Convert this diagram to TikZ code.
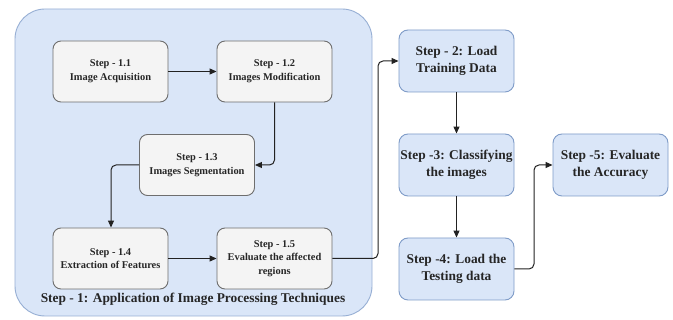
\documentclass[tikz,border=0pt]{standalone}
\usepackage{fontspec}
\setmainfont{Liberation Serif}[BoldFont={Liberation Serif Bold}]
\usetikzlibrary{arrows.meta}
\definecolor{contfill}{HTML}{DAE6F8}
\definecolor{contdraw}{HTML}{97AFD4}
\definecolor{greyfill}{HTML}{F4F4F4}
\definecolor{greydraw}{HTML}{6E6E6E}
\definecolor{bluefill}{HTML}{DAE6F8}
\definecolor{bluedraw}{HTML}{7F9CC8}
\definecolor{linecol}{HTML}{222222}
\tikzset{
  innerbox/.style={draw=greydraw, fill=greyfill, line width=0.9pt, rounded corners=8pt,
    minimum width=115pt, minimum height=61pt, inner sep=0pt, align=center,
    font=\fontsize{10.4}{13.6}\selectfont\bfseries, text=black!85},
  outerbox/.style={draw=bluedraw, fill=bluefill, line width=0.9pt, rounded corners=9pt,
    minimum width=115pt, minimum height=62pt, inner sep=0pt, align=center,
    font=\fontsize{13.4}{17.5}\selectfont\bfseries, text=black!85},
  conn/.style={draw=linecol, line width=1pt, rounded corners=5pt,
    -{Triangle[length=7pt,width=6pt]}},
}
\begin{document}
\begin{tikzpicture}[x=1pt,y=-1pt]
\useasboundingbox (0,0) rectangle (673,320);
\fill[white] (0,0) rectangle (673,320);
% container
\draw[draw=contdraw, fill=contfill, line width=0.9pt, rounded corners=30pt] (15,9) rectangle (372,316);
\node (clabel) at (193,299) [font=\fontsize{13.4}{16}\selectfont\bfseries, text=black!85] {Step - 1: Application of Image Processing Techniques};
% inner boxes
\node[innerbox] (s11) at (110.5,71.5) {Step - 1.1\\Image Acquisition};
\node[innerbox] (s12) at (274.5,71.5) {Step - 1.2\\Images Modification};
\node[innerbox] (s13) at (197,165) {Step - 1.3\\Images Segmentation};
\node[innerbox] (s14) at (110.5,258.5) {Step - 1.4\\Extraction of Features};
\node[innerbox] (s15) at (274.5,258.5) {Step - 1.5\\Evaluate the affected\\regions};
% right boxes
\node[outerbox] (s2) at (456.5,61) {Step - 2: Load\\Training Data};
\node[outerbox] (s3) at (456.5,165) {Step -3: Classifying\\the images};
\node[outerbox] (s4) at (456.5,269) {Step -4: Load the\\Testing data};
\node[outerbox] (s5) at (610.5,165) {Step -5: Evaluate\\the Accuracy};
% connectors
\draw[conn] (s11.east) -- (s12.west);
\draw[conn] (s12.south) |- (s13.east);
\draw[conn] (s13.west) -| (s14.north -| 111,0) ;
\draw[conn] (s14.east) -- (s15.west);
\coordinate (c1) at (378,258.5);
\draw[conn] (s15.east) -- (c1) |- (s2.west);
\coordinate (c2) at (534,269);
\draw[conn] (s4.east) -- (c2) |- (s5.west);
\draw[conn] (s2.south) -- (s3.north);
\draw[conn] (s3.south) -- (s4.north);
\end{tikzpicture}
\end{document}
